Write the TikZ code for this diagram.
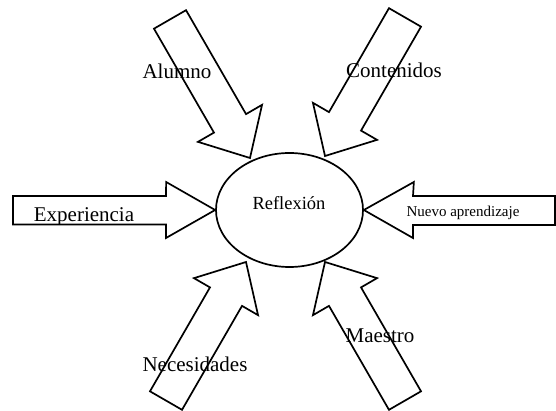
\documentclass[tikz,border=0pt]{standalone}
\usepackage{fontspec}
\setmainfont{Liberation Serif}
\usepackage{tikz}
\usetikzlibrary{shapes.geometric}

\tikzset{
	flecha/.style={draw=black,line width=1.7pt,line join=miter},
	rotulo/.style={anchor=base,inner sep=0pt,font=\fontsize{21}{24}\selectfont},
}

\begin{document}
\begin{tikzpicture}[x=1pt,y=-1pt]
	
	\useasboundingbox (0,0) rectangle (556,411);
	\node[flecha,ellipse,minimum width=147pt,minimum height=114pt,inner sep=0pt] (reflexion) at (289.5,210) {};
	\node[anchor=base,inner sep=0pt,font=\fontsize{18.5}{21}\selectfont] (tReflexion) at (289,210) {Reflexión};
	
	% diagonal arrows (tip at origin)
	\begin{scope}[shift={(250,158)},rotate=-60]
	\draw[flecha] (0,0) -- ++(-40,37) -- ++(0,-18.5) -- ++(-120,0) -- ++(0,-37) -- ++(120,0) -- ++(0,-18.5) -- cycle;
	\end{scope}
	\begin{scope}[shift={(325,156)},rotate=-120]
	\draw[flecha] (0,0) -- ++(-40,37) -- ++(0,-18.5) -- ++(-120,0) -- ++(0,-37) -- ++(120,0) -- ++(0,-18.5) -- cycle;
	\end{scope}
	\begin{scope}[shift={(246,262)},rotate=60]
	\draw[flecha] (0,0) -- ++(-40,37) -- ++(0,-18.5) -- ++(-120,0) -- ++(0,-37) -- ++(120,0) -- ++(0,-18.5) -- cycle;
	\end{scope}
	\begin{scope}[shift={(325,262)},rotate=120]
	\draw[flecha] (0,0) -- ++(-40,37) -- ++(0,-18.5) -- ++(-120,0) -- ++(0,-37) -- ++(120,0) -- ++(0,-18.5) -- cycle;
	\end{scope}
	
	% horizontal arrows
	\draw[flecha] (reflexion.west) -- ++(-49,-28) -- (166,196) -- (13,196) -- (13,224.5) -- (166,224.5) -- ++(0,13.5) -- cycle;
	\draw[flecha] (reflexion.east) -- ++(50,-28) -- (413,196) -- (555,196) -- (555,225) -- (413,225) -- ++(0,13) -- cycle;
	
	\node[rotulo] (alumno) at (177,79) {Alumno};
	\node[rotulo] (contenidos) at (394,78) {Contenidos};
	\begin{scope}
	\clip (0,0) rectangle (556,223.6);
	\node[rotulo] (experiencia) at (84,221.7) {Experiencia};
	\end{scope}
	\node[rotulo,font=\fontsize{15}{18}\selectfont] (nuevo) at (463,216.5) {Nuevo aprendizaje};
	\node[rotulo] (necesidades) at (195,371) {Necesidades};
	\node[rotulo] (maestro) at (380,342) {Maestro};
	
\end{tikzpicture}
\end{document}
